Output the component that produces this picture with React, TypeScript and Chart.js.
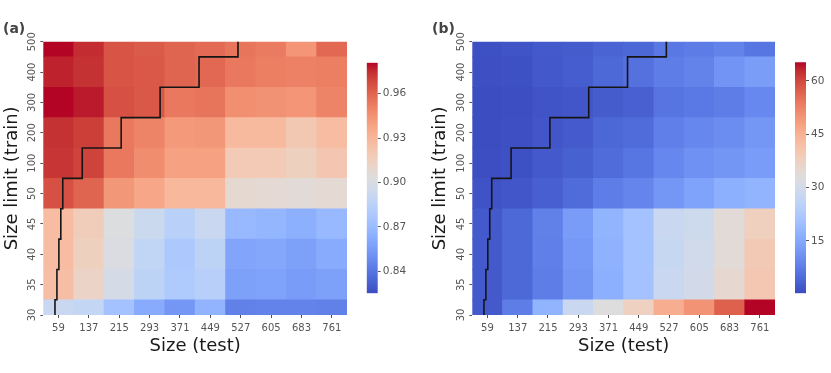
import React, { useEffect, useRef } from 'react';
import { Chart, registerables } from 'chart.js';

Chart.register(...registerables);
Chart.defaults.font.family = "'DejaVu Sans', sans-serif";

// ---------- data ----------
const testSizes = ['59', '137', '215', '293', '371', '449', '527', '605', '683', '761'];
const trainLimits = [30, 35, 40, 45, 50, 100, 200, 300, 400, 500]; // bottom -> top
const lineXMax = 780;

// Panel (a): accuracy, one array per train-size row
const acc30 = [0.892, 0.889, 0.874, 0.862, 0.853, 0.866, 0.844, 0.845, 0.845, 0.844];
const acc35 = [0.926, 0.912, 0.898, 0.886, 0.879, 0.883, 0.857, 0.858, 0.855, 0.857];
const acc40 = [0.927, 0.915, 0.901, 0.888, 0.878, 0.886, 0.859, 0.860, 0.857, 0.862];
const acc45 = [0.927, 0.917, 0.902, 0.893, 0.884, 0.892, 0.869, 0.867, 0.864, 0.869];
const acc50 = [0.966, 0.960, 0.943, 0.937, 0.929, 0.929, 0.908, 0.907, 0.906, 0.907];
const acc100 = [0.973, 0.970, 0.954, 0.947, 0.939, 0.939, 0.919, 0.919, 0.915, 0.921];
const acc200 = [0.974, 0.971, 0.954, 0.950, 0.942, 0.943, 0.928, 0.928, 0.920, 0.927];
const acc300 = [0.981, 0.978, 0.966, 0.964, 0.954, 0.955, 0.946, 0.945, 0.944, 0.950];
const acc400 = [0.977, 0.974, 0.965, 0.964, 0.960, 0.959, 0.954, 0.952, 0.951, 0.952];
const acc500 = [0.981, 0.975, 0.965, 0.963, 0.960, 0.958, 0.955, 0.953, 0.944, 0.959];
const accRows = [acc30, acc35, acc40, acc45, acc50, acc100, acc200, acc300, acc400, acc500];
const accMin = 0.825;
const accMax = 0.981;
const accTicks = [0.84, 0.87, 0.9, 0.93, 0.96];

// Panel (b)
const cnt30 = [2.3, 7.6, 17.5, 28.0, 32.7, 37.5, 45.7, 50.0, 57.0, 65.2];
const cnt35 = [2.3, 4.3, 7.6, 11.8, 16.5, 20.5, 28.0, 30.0, 35.0, 40.0];
const cnt40 = [2.3, 4.3, 8.0, 12.3, 17.0, 20.5, 27.5, 29.5, 34.0, 39.5];
const cnt45 = [2.3, 4.3, 8.2, 12.8, 17.5, 20.5, 28.0, 29.0, 34.0, 38.0];
const cnt50 = [1.3, 1.8, 3.0, 5.0, 7.6, 9.0, 12.0, 14.0, 16.5, 17.5];
const cnt100 = [0.6, 1.0, 2.3, 3.3, 5.0, 6.5, 9.3, 11.0, 11.8, 12.8];
const cnt200 = [0.5, 0.8, 1.8, 2.5, 4.2, 5.0, 8.0, 9.3, 10.3, 12.0];
const cnt300 = [0.5, 0.6, 1.5, 1.8, 2.6, 3.2, 6.3, 7.0, 7.6, 9.5];
const cnt400 = [0.8, 1.0, 2.0, 2.8, 4.3, 5.7, 7.6, 8.6, 11.5, 13.0];
const cnt500 = [1.0, 1.5, 2.3, 2.6, 3.8, 4.2, 6.8, 7.5, 8.5, 6.5];
const cntRows = [cnt30, cnt35, cnt40, cnt45, cnt50, cnt100, cnt200, cnt300, cnt400, cnt500];
const cntMin = 0.3;
const cntMax = 65.2;
const cntTicks = [15, 30, 45, 60];

// ---------- coolwarm palette ----------
const CW: number[][] = [
  [59, 76, 192], [68, 90, 204], [77, 104, 215], [87, 117, 225], [98, 130, 234], [108, 142, 241],
  [119, 154, 247], [130, 165, 251], [141, 176, 254], [152, 185, 255], [163, 194, 255], [174, 201, 253],
  [184, 208, 249], [194, 213, 244], [204, 217, 238], [213, 219, 230], [221, 221, 221], [229, 216, 209],
  [236, 211, 197], [241, 204, 185], [245, 196, 173], [247, 187, 160], [247, 177, 148], [247, 166, 135],
  [244, 154, 123], [241, 141, 111], [236, 127, 99], [229, 112, 88], [222, 96, 77], [213, 80, 66],
  [203, 62, 56], [192, 40, 47], [180, 4, 38],
];
function coolwarm(t: number): string {
  const tt = Math.max(0, Math.min(1, t));
  const n = CW.length - 1;
  const p = tt * n;
  const i = Math.min(Math.floor(p), n - 1);
  const f = p - i;
  const a = CW[i];
  const b = CW[i + 1];
  const c = [0, 1, 2].map((k) => Math.round(a[k] + (b[k] - a[k]) * f));
  return `rgb(${c[0]},${c[1]},${c[2]})`;
}

const TICK_COLOR = '#555555';
const TITLE_COLOR = '#1a1a1a';

function stepLine() {
  const pts: { x: number; y: number }[] = [];
  trainLimits.forEach((s, i) => {
    pts.push({ x: s, y: i - 0.5 });
    pts.push({ x: s, y: i + 0.5 });
  });
  return pts;
}

function heatmapConfig(rows: number[][], vmin: number, vmax: number, yWidth: number): any {
  const datasets: any[] = rows.map((vals, i) => ({
    type: 'bar',
    data: vals.map(() => [i - 0.5, i + 0.5]),
    backgroundColor: vals.map((v) => coolwarm((v - vmin) / (vmax - vmin))),
    borderWidth: 0,
    grouped: false,
    barPercentage: 1,
    categoryPercentage: 1,
    clip: 0,
    xAxisID: 'x',
    yAxisID: 'y',
    order: 2,
  }));
  datasets.push({
    type: 'line',
    data: stepLine(),
    xAxisID: 'x2',
    yAxisID: 'y',
    borderColor: '#151515',
    borderWidth: 1.6,
    pointRadius: 0,
    fill: false,
    tension: 0,
    clip: 0,
    order: 0,
  });
  return {
    type: 'bar',
    data: { labels: testSizes, datasets },
    options: {
      responsive: false,
      animation: false,
      events: [],
      layout: { padding: { top: 41.7, left: 0, right: 0, bottom: 0 } },
      plugins: { legend: { display: false }, tooltip: { enabled: false } },
      scales: {
        x: {
          type: 'category',
          offset: true,
          grid: { display: true, drawOnChartArea: false, drawTicks: true, tickLength: 3, color: TICK_COLOR, offset: false },
          border: { display: false },
          ticks: { color: TICK_COLOR, font: { size: 10 }, padding: 4.5, maxRotation: 0, autoSkip: false },
          title: {
            display: true,
            text: 'Size (test)',
            color: TITLE_COLOR,
            font: { size: 18 },
            padding: { top: 0, bottom: 16 },
          },
          afterFit: (s: any) => {
            s.height = 58;
          },
        },
        x2: {
          type: 'linear',
          min: 0,
          max: lineXMax,
          offset: false,
          grid: { offset: false },
          display: false,
        },
        y: {
          type: 'linear',
          min: 0,
          max: trainLimits.length - 1,
          afterBuildTicks: (s: any) => {
            s.ticks = trainLimits.map((_, i) => ({ value: i }));
          },
          grid: { display: true, drawOnChartArea: false, drawTicks: true, tickLength: 3, color: TICK_COLOR },
          border: { display: false },
          ticks: {
            color: TICK_COLOR,
            font: { size: 10 },
            minRotation: 90,
            maxRotation: 90,
            crossAlign: 'center',
            padding: -1.5,
            callback: (v: any) => String(trainLimits[Math.round(Number(v))]),
          },
          title: {
            display: true,
            text: 'Size limit (train)',
            color: TITLE_COLOR,
            font: { size: 18 },
            padding: { top: 2, bottom: 0 },
          },
          afterFit: (s: any) => {
            s.width = yWidth;
          },
        },
      },
    },
  };
}

function colorbarConfig(vmin: number, vmax: number, ticks: number[], fmt: (v: number) => string, pad: any, yWidth: number): any {
  return {
    type: 'bar',
    data: {
      labels: [''],
      datasets: [
        {
          data: [[vmin, vmax]],
          backgroundColor: (ctx: any) => {
            const ca = ctx.chart.chartArea;
            if (!ca) return '#dddddd';
            const g = ctx.chart.ctx.createLinearGradient(0, ca.bottom, 0, ca.top);
            CW.forEach((c, i) => g.addColorStop(i / (CW.length - 1), `rgb(${c[0]},${c[1]},${c[2]})`));
            return g;
          },
          borderWidth: 0,
          barPercentage: 1,
          categoryPercentage: 1,
        },
      ],
    },
    options: {
      responsive: false,
      animation: false,
      events: [],
      layout: { padding: pad },
      plugins: { legend: { display: false }, tooltip: { enabled: false } },
      scales: {
        x: { display: false },
        y: {
          position: 'right',
          min: vmin,
          max: vmax,
          afterBuildTicks: (s: any) => {
            s.ticks = ticks.map((v) => ({ value: v }));
          },
          grid: { display: true, drawOnChartArea: false, drawTicks: true, tickLength: 3, color: TICK_COLOR },
          border: { display: false },
          ticks: { color: TICK_COLOR, font: { size: 10.5 }, padding: 2, callback: (v: any) => fmt(Number(v)) },
          afterFit: (s: any) => {
            s.width = yWidth;
          },
        },
      },
    },
  };
}

function ChartCanvas(props: { left: number; top: number; width: number; height: number; make: () => any }) {
  const ref = useRef<HTMLCanvasElement>(null);
  useEffect(() => {
    const chart = new Chart(ref.current as HTMLCanvasElement, props.make());
    return () => chart.destroy();
  }, []);
  return (
    <canvas
      ref={ref}
      width={props.width}
      height={props.height}
      style={{ position: 'absolute', left: props.left, top: props.top, width: props.width, height: props.height }}
    />
  );
}

const panelLabelStyle: React.CSSProperties = {
  position: 'absolute',
  top: 20,
  fontFamily: "'DejaVu Sans', sans-serif",
  fontWeight: 'bold',
  fontSize: 14,
  lineHeight: '16px',
  color: '#444444',
};

export default function App() {
  return (
    <div style={{ position: 'absolute', left: 0, top: 0, width: 831, height: 373, background: '#ffffff', overflow: 'hidden' }}>
      <ChartCanvas left={0} top={0} width={347} height={373} make={() => heatmapConfig(accRows, accMin, accMax, 43.3)} />
      <ChartCanvas
        left={360}
        top={50}
        width={60}
        height={260}
        make={() => colorbarConfig(accMin, accMax, accTicks, (v) => v.toFixed(2), { left: 6.7, top: 12.7, bottom: 16.7, right: 0 }, 42.3)}
      />
      <ChartCanvas left={428} top={0} width={347} height={373} make={() => heatmapConfig(cntRows, cntMin, cntMax, 44.3)} />
      <ChartCanvas
        left={788}
        top={50}
        width={43}
        height={260}
        make={() => colorbarConfig(cntMin, cntMax, cntTicks, (v) => String(Math.round(v)), { left: 7, top: 12.3, bottom: 16.7, right: 0 }, 25)}
      />
      <div style={{ ...panelLabelStyle, left: 3 }}>(a)</div>
      <div style={{ ...panelLabelStyle, left: 432 }}>(b)</div>
    </div>
  );
}
